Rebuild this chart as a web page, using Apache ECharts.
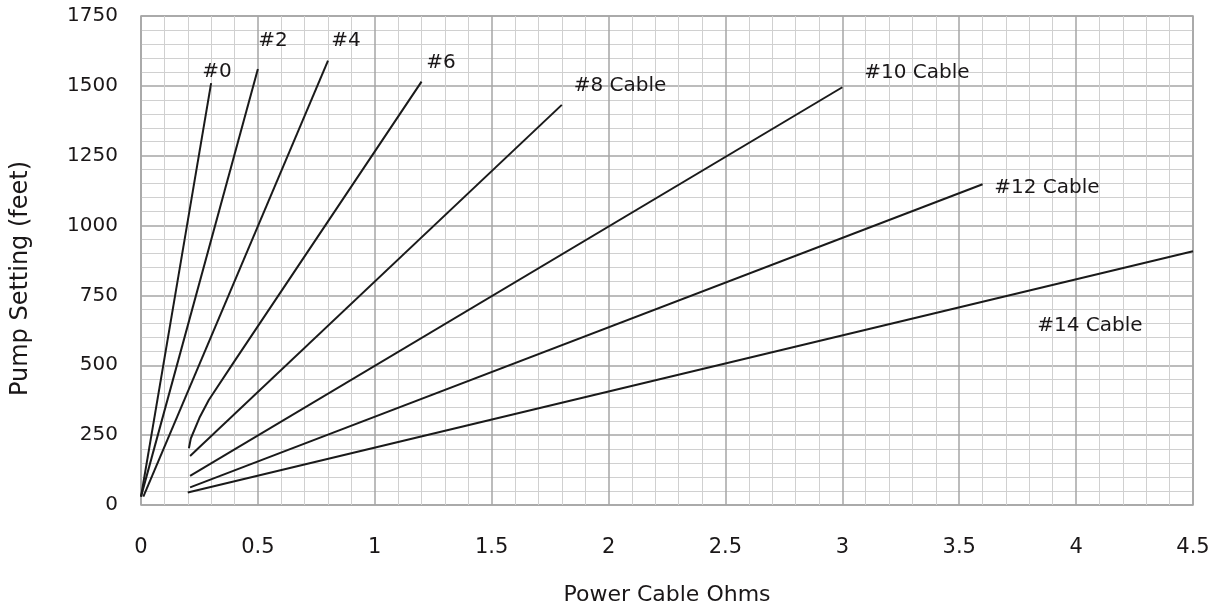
<!DOCTYPE html>
<html>
<head>
<meta charset="utf-8">
<script src="https://cdn.jsdelivr.net/npm/echarts@6/dist/echarts.min.js"></script>
<style>
html,body{margin:0;padding:0;background:#fff;}
#chart{width:1214px;height:613px;}
</style>
</head>
<body>
<div id="chart"></div>
<script>
// Data (x = Power Cable Ohms, y = Pump Setting feet)
const cable0  = [[0, 30], [0.3, 1510]];
const cable2  = [[0, 30], [0.5, 1560]];
const cable4  = [[0.01, 30], [0.8, 1590]];
const cable6  = [[0.205, 203], [0.213, 238], [0.25, 312], [0.29, 376], [0.4, 515], [1.2, 1515]];
const cable8  = [[0.21, 175], [1.8, 1432]];
const cable10 = [[0.21, 104], [3.0, 1495]];
const cable12 = [[0.21, 63], [3.6, 1148]];
const cable14 = [[0.2, 45], [4.5, 908]];

const labelNames = ['#0', '#2', '#4', '#6', '#8 Cable', '#10 Cable', '#12 Cable', '#14 Cable'];
const labelX = [0.325, 0.565, 0.877, 1.283, 2.049, 3.319, 3.875, 4.059];
const labelY = [1552, 1660, 1663, 1581, 1499, 1545, 1134, 640];

const xTicks = [0, 0.5, 1, 1.5, 2, 2.5, 3, 3.5, 4, 4.5];
const yTicks = [0, 250, 500, 750, 1000, 1250, 1500, 1750];

const FONT = '"DejaVu Sans", "Noto Sans", sans-serif';
const TXT = '#1a1718';

const lines = [cable0, cable2, cable4, cable6, cable8, cable10, cable12, cable14];
const series = lines.map((d, i) => ({
  type: 'line',
  data: d,
  showSymbol: false,
  symbol: 'none',
  smooth: false,
  lineStyle: { color: '#1a1a1a', width: 2 },
  animation: false,
  z: 3
}));
series.push({
  type: 'scatter',
  symbolSize: 0,
  animation: false,
  silent: true,
  itemStyle: { opacity: 1 },
  data: labelNames.map((n, i) => ({ value: [labelX[i], labelY[i]], name: n })),
  label: {
    show: true,
    position: 'inside',
    formatter: p => p.name,
    fontFamily: FONT,
    fontSize: 20,
    color: TXT,
    opacity: 1,
    textBorderWidth: 0
  },
  z: 4
});

const chart = echarts.init(document.getElementById('chart'), null, { renderer: 'canvas' });
chart.setOption({
  animation: false,
  backgroundColor: '#fff',
  grid: { left: 141, right: 21, top: 16, bottom: 108, show: true, borderColor: '#a3a3a3', borderWidth: 1.5, containLabel: false },
  xAxis: {
    type: 'value',
    min: xTicks[0],
    max: xTicks[xTicks.length - 1],
    interval: 0.5,
    name: 'Power Cable Ohms',
    nameLocation: 'middle',
    nameGap: 79,
    nameTextStyle: { fontFamily: FONT, fontSize: 22, color: TXT },
    axisLine: { show: false },
    axisTick: { show: false },
    axisLabel: { margin: 32, fontFamily: FONT, fontSize: 21, color: TXT, formatter: v => String(v) },
    splitLine: { show: true, lineStyle: { color: '#a6a6a6', width: 1.5 } },
    minorTick: { show: false, splitNumber: 5 },
    minorSplitLine: { show: true, lineStyle: { color: '#d0d0d0', width: 1 } }
  },
  yAxis: {
    type: 'value',
    min: yTicks[0],
    max: yTicks[yTicks.length - 1],
    interval: 250,
    name: 'Pump Setting (feet)',
    nameLocation: 'middle',
    nameGap: 108,
    nameTextStyle: { fontFamily: FONT, fontSize: 24, color: TXT, padding: [0, 36, 0, 0] },
    axisLine: { show: false },
    axisTick: { show: false },
    axisLabel: { margin: 23, fontFamily: FONT, fontSize: 20, color: TXT, formatter: v => String(v) },
    splitLine: { show: true, lineStyle: { color: '#a6a6a6', width: 1.5 } },
    minorTick: { show: false, splitNumber: 5 },
    minorSplitLine: { show: true, lineStyle: { color: '#d0d0d0', width: 1 } }
  },
  series: series
});
</script>
</body>
</html>
